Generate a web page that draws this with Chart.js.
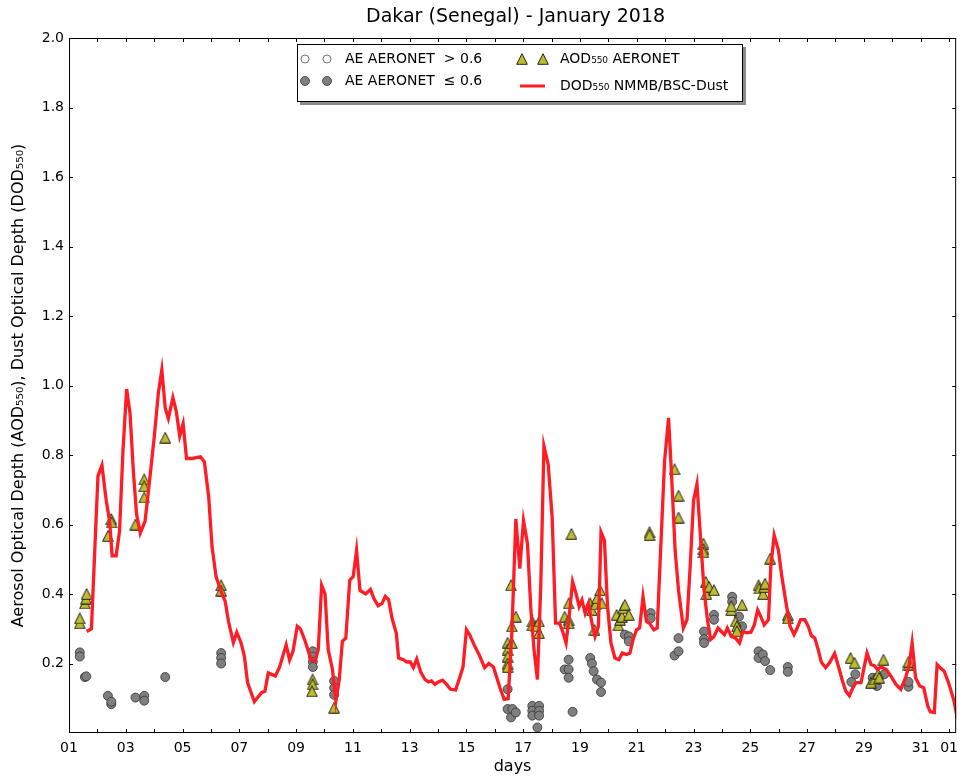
<!DOCTYPE html>
<html>
<head>
<meta charset="utf-8">
<script src="https://cdn.jsdelivr.net/npm/chart.js@4.4.1/dist/chart.umd.min.js"></script>
<style>
  html, body { margin: 0; padding: 0; background: #fff; overflow: hidden; }
  canvas { display: block; }
</style>
</head>
<body>
<canvas id="chart" width="965" height="778"></canvas>
<script>
// model dust optical depth (NMMB/BSC-Dust), day of month as decimal
const dodDays = [1.62, 1.79, 2.02, 2.16, 2.31, 2.43, 2.52, 2.66, 2.78, 2.90, 3.03, 3.15, 3.27, 3.38, 3.51, 3.68, 3.83, 4.00, 4.15, 4.27,
  4.39, 4.50, 4.66, 4.78, 4.90, 5.02, 5.14, 5.34, 5.63, 5.77, 5.92, 6.04, 6.18, 6.39, 6.50, 6.62, 6.79, 6.91, 7.06, 7.18,
  7.29, 7.53, 7.78, 7.90, 8.02, 8.27, 8.42, 8.65, 8.77, 8.89, 9.04, 9.15, 9.32, 9.53, 9.67, 9.78, 9.90, 10.02, 10.13, 10.28,
  10.40, 10.52, 10.63, 10.75, 10.89, 11.01, 11.13, 11.25, 11.45, 11.62, 11.74, 11.89, 12.03, 12.14, 12.26, 12.38, 12.53, 12.61, 12.78, 12.90,
  13.02, 13.13, 13.25, 13.39, 13.54, 13.66, 13.77, 13.89, 14.01, 14.16, 14.30, 14.44, 14.62, 14.76, 14.88, 15.00, 15.11, 15.29, 15.46, 15.64,
  15.79, 15.95, 16.07, 16.18, 16.33, 16.47, 16.60, 16.74, 16.88, 17.01, 17.15, 17.27, 17.38, 17.50, 17.62, 17.73, 17.88, 18.02, 18.14, 18.28,
  18.39, 18.51, 18.63, 18.74, 18.86, 18.97, 19.07, 19.18, 19.30, 19.42, 19.53, 19.65, 19.74, 19.86, 19.97, 20.09, 20.23, 20.37, 20.49, 20.64,
  20.76, 20.87, 20.99, 21.10, 21.22, 21.34, 21.45, 21.60, 21.72, 21.84, 21.98, 22.12, 22.23, 22.35, 22.47, 22.64, 22.77, 22.88, 23.00, 23.12,
  23.26, 23.37, 23.49, 23.60, 23.72, 23.86, 23.98, 24.09, 24.19, 24.33, 24.48, 24.62, 24.74, 24.88, 25.02, 25.14, 25.26, 25.37, 25.49, 25.64,
  25.72, 25.84, 25.99, 26.11, 26.26, 26.40, 26.54, 26.65, 26.77, 26.92, 27.04, 27.15, 27.27, 27.39, 27.50, 27.65, 27.79, 27.97, 28.11, 28.23,
  28.36, 28.49, 28.61, 28.72, 28.90, 29.11, 29.25, 29.37, 29.48, 29.60, 29.78, 29.95, 30.13, 30.30, 30.47, 30.60, 30.70, 30.82, 30.97, 31.11,
  31.25, 31.34, 31.48, 31.58, 31.69, 31.83, 31.98, 32.16, 32.30];
const dodValues = [0.292, 0.30, 0.74, 0.77, 0.67, 0.61, 0.51, 0.51, 0.58, 0.81, 0.99, 0.92, 0.75, 0.63, 0.575, 0.61, 0.72, 0.85, 0.98, 1.045,
  0.935, 0.905, 0.965, 0.925, 0.855, 0.89, 0.79, 0.79, 0.795, 0.78, 0.68, 0.535, 0.45, 0.40, 0.38, 0.32, 0.26, 0.29, 0.26, 0.22,
  0.145, 0.09, 0.116, 0.12, 0.173, 0.164, 0.19, 0.254, 0.21, 0.235, 0.307, 0.30, 0.264, 0.21, 0.207, 0.24, 0.425, 0.40, 0.24, 0.183,
  0.092, 0.154, 0.264, 0.273, 0.44, 0.45, 0.526, 0.41, 0.40, 0.413, 0.387, 0.366, 0.373, 0.393, 0.383, 0.33, 0.287, 0.216, 0.211, 0.204,
  0.205, 0.188, 0.213, 0.175, 0.154, 0.147, 0.15, 0.14, 0.147, 0.152, 0.14, 0.126, 0.124, 0.159, 0.19, 0.297, 0.283, 0.25, 0.223, 0.188,
  0.20, 0.19, 0.159, 0.13, 0.097, 0.099, 0.288, 0.616, 0.473, 0.611, 0.545, 0.354, 0.24, 0.154, 0.43, 0.826, 0.773, 0.62, 0.316, 0.316,
  0.292, 0.259, 0.345, 0.435, 0.402, 0.364, 0.383, 0.345, 0.373, 0.316, 0.278, 0.307, 0.578, 0.554, 0.364, 0.259, 0.216, 0.211, 0.23, 0.226,
  0.23, 0.269, 0.297, 0.302, 0.392, 0.321, 0.316, 0.297, 0.302, 0.526, 0.783, 0.907, 0.735, 0.526, 0.411, 0.302, 0.326, 0.478, 0.669, 0.716,
  0.545, 0.411, 0.326, 0.269, 0.278, 0.302, 0.292, 0.283, 0.302, 0.278, 0.273, 0.259, 0.292, 0.288, 0.29, 0.311, 0.354, 0.335, 0.311, 0.326,
  0.478, 0.569, 0.526, 0.45, 0.373, 0.307, 0.283, 0.302, 0.326, 0.326, 0.307, 0.28, 0.273, 0.24, 0.204, 0.188, 0.202, 0.229, 0.19, 0.154,
  0.121, 0.107, 0.13, 0.145, 0.145, 0.23, 0.197, 0.194, 0.183, 0.19, 0.183, 0.164, 0.14, 0.126, 0.159, 0.197, 0.259, 0.159, 0.135, 0.13,
  0.078, 0.061, 0.059, 0.197, 0.188, 0.178, 0.145, 0.097, 0.04];

// AERONET AOD 550 (triangles)
const aodDays = [1.38, 1.38, 1.56, 1.60, 1.62, 2.37, 2.49, 2.50, 3.34, 3.65, 3.65, 3.65, 4.39, 6.36, 6.36,
  9.58, 9.58, 9.56, 10.34, 16.45, 16.45, 16.45, 16.45, 16.45, 16.57, 16.60, 16.60, 16.74,
  17.32, 17.32, 17.45, 17.56, 17.56, 18.46, 18.60, 18.60, 18.60, 18.70,
  19.36, 19.42, 19.51, 19.55, 19.60, 19.71, 19.77, 20.29, 20.35, 20.41, 20.48, 20.52, 20.58, 20.72,
  21.45, 21.45, 22.33, 22.47, 22.47, 23.35, 23.35, 23.35, 23.43, 23.45, 23.55, 23.72,
  24.33, 24.33, 24.48, 24.53, 24.53, 24.71, 25.29, 25.32, 25.45, 25.49, 25.52, 25.70, 26.32, 26.32,
  28.53, 28.67, 29.25, 29.37, 29.50, 29.54, 29.69, 30.57, 30.57];
const aodValues = [0.316, 0.33, 0.373, 0.387, 0.40, 0.567, 0.616, 0.606, 0.60, 0.73, 0.71, 0.678, 0.85, 0.425, 0.41,
  0.154, 0.14, 0.12, 0.073, 0.26, 0.24, 0.22, 0.20, 0.19, 0.425, 0.259, 0.307, 0.335,
  0.321, 0.31, 0.307, 0.321, 0.288, 0.335, 0.373, 0.326, 0.316, 0.573,
  0.373, 0.354, 0.297, 0.37, 0.388, 0.411, 0.373, 0.34, 0.31, 0.326, 0.335, 0.359, 0.369, 0.34,
  0.578, 0.57, 0.759, 0.683, 0.62, 0.545, 0.53, 0.52, 0.435, 0.40, 0.421, 0.411,
  0.354, 0.365, 0.321, 0.307, 0.293, 0.369, 0.425, 0.416, 0.40, 0.42, 0.43, 0.502, 0.34, 0.33,
  0.216, 0.202, 0.145, 0.154, 0.17, 0.159, 0.211, 0.197, 0.205];

// AERONET Angstrom exponent <= 0.6 (grey circles)
const aeDays = [1.38, 1.38, 1.56, 1.61, 2.37, 2.49, 2.49, 3.34, 3.65, 3.65, 4.39, 6.36, 6.36, 6.36,
  9.59, 9.59, 9.59, 9.59, 10.34, 10.34, 10.34, 16.45, 16.45, 16.57, 16.62, 16.74,
  17.32, 17.32, 17.32, 17.50, 17.56, 17.56, 17.56, 18.46, 18.60, 18.60, 18.60, 18.74,
  19.36, 19.42, 19.48, 19.60, 19.74, 19.74, 20.58, 20.72, 20.72, 21.49, 21.49, 22.33, 22.47, 22.47,
  23.37, 23.37, 23.37, 23.72, 23.72, 24.36, 24.36, 24.60, 24.71, 25.29, 25.29, 25.44, 25.52, 25.70,
  26.32, 26.32, 28.56, 28.70, 29.31, 29.46, 29.72, 30.57, 30.57];
const aeValues = [0.232, 0.22, 0.161, 0.163, 0.107, 0.083, 0.09, 0.102, 0.107, 0.093, 0.161, 0.23, 0.216, 0.20,
  0.235, 0.22, 0.205, 0.19, 0.15, 0.13, 0.11, 0.126, 0.069, 0.045, 0.069, 0.059,
  0.078, 0.064, 0.05, 0.016, 0.078, 0.064, 0.05, 0.183, 0.211, 0.183, 0.159, 0.061,
  0.216, 0.20, 0.178, 0.154, 0.145, 0.118, 0.283, 0.278, 0.264, 0.345, 0.33, 0.223, 0.235, 0.273,
  0.292, 0.27, 0.259, 0.34, 0.326, 0.392, 0.378, 0.335, 0.307, 0.235, 0.216, 0.226, 0.207, 0.181,
  0.19, 0.176, 0.147, 0.169, 0.159, 0.135, 0.169, 0.133, 0.147];

// x tick labels every second day, last one is 1 February
const tickDays = [1, 3, 5, 7, 9, 11, 13, 15, 17, 19, 21, 23, 25, 27, 29, 31, 32];
const tickLabels = ["01", "03", "05", "07", "09", "11", "13", "15", "17", "19", "21", "23", "25", "27", "29", "31", "01"];

const FONT = "'DejaVu Sans', sans-serif";
const RED = "#ff1c24";
const OLIVE = "#bdbd2c";
const GREY = "#7f7f7f";

const toPoints = (xs, ys) => xs.map((d, i) => ({ x: d, y: ys[i] }));

// matplotlib "^" marker: as tall as it is wide
const tri = document.createElement("canvas");
tri.width = 12;
tri.height = 12;
(() => {
  const c = tri.getContext("2d");
  c.beginPath();
  c.moveTo(6, 0.7);
  c.lineTo(0.7, 11.3);
  c.lineTo(11.3, 11.3);
  c.closePath();
  c.fillStyle = OLIVE;
  c.fill();
  c.strokeStyle = "#222";
  c.lineWidth = 1;
  c.stroke();
})();

// title centred over the axes
const axesTitle = {
  id: "axesTitle",
  afterDraw(chart) {
    const { ctx, chartArea: a } = chart;
    ctx.save();
    ctx.fillStyle = "#000";
    ctx.font = "19px " + FONT;
    ctx.textAlign = "center";
    ctx.textBaseline = "middle";
    ctx.fillText("Dakar (Senegal) - January 2018", (a.left + a.right) / 2 + 3, 17);
    ctx.restore();
  }
};

// frame and inward ticks on all four sides
const frame = {
  id: "frame",
  afterDatasetsDraw(chart) {
    const { ctx, chartArea: a, scales: { x, y } } = chart;
    ctx.save();
    ctx.strokeStyle = "#000";
    ctx.lineWidth = 1;
    ctx.beginPath();
    for (let d = 1; d <= 32; d++) {
      const px = Math.round(x.getPixelForValue(d)) + 0.5;
      ctx.moveTo(px, a.bottom); ctx.lineTo(px, a.bottom - 4);
      ctx.moveTo(px, a.top); ctx.lineTo(px, a.top + 4);
    }
    for (let v = 0.2; v < 2; v += 0.2) {
      const py = Math.round(y.getPixelForValue(v)) + 0.5;
      ctx.moveTo(a.left, py); ctx.lineTo(a.left + 4, py);
      ctx.moveTo(a.right, py); ctx.lineTo(a.right - 4, py);
    }
    ctx.stroke();
    ctx.strokeRect(a.left + 0.5, a.top + 0.5, a.right - a.left - 1, a.bottom - a.top - 1);
    ctx.restore();
  }
};

function circle(ctx, cx, cy, r, fill) {
  ctx.beginPath();
  ctx.arc(cx, cy, r, 0, Math.PI * 2);
  ctx.fillStyle = fill;
  ctx.fill();
  ctx.stroke();
}

// matplotlib-like legend box with shadow
const legendBox = {
  id: "legendBox",
  afterDraw(chart) {
    const ctx = chart.ctx;
    ctx.save();
    ctx.fillStyle = "#8c8c8c";
    ctx.fillRect(300, 47, 446, 58);
    ctx.fillStyle = "#fff";
    ctx.fillRect(297, 44, 446, 58);
    ctx.strokeStyle = "#000";
    ctx.lineWidth = 1;
    ctx.strokeRect(297.5, 44.5, 445, 57);

    ctx.lineWidth = 0.8;
    ctx.strokeStyle = "#555";
    circle(ctx, 305, 59, 4, "#fff");
    circle(ctx, 327, 59, 4, "#fff");
    ctx.strokeStyle = "#333";
    circle(ctx, 305, 81, 4.5, GREY);
    circle(ctx, 327, 81, 4.5, GREY);
    ctx.drawImage(tri, 516, 53);
    ctx.drawImage(tri, 537, 53);
    ctx.strokeStyle = RED;
    ctx.lineWidth = 3;
    ctx.beginPath();
    ctx.moveTo(520, 86); ctx.lineTo(545, 86);
    ctx.stroke();

    ctx.fillStyle = "#000";
    ctx.font = "14px " + FONT;
    ctx.textBaseline = "middle";
    ctx.fillText("AE AERONET  > 0.6", 345, 59);
    ctx.fillText("AE AERONET  \u2264 0.6", 345, 81);
    ctx.fillText("AOD\u2085\u2085\u2080 AERONET", 560, 59);
    ctx.fillText("DOD\u2085\u2085\u2080 NMMB/BSC-Dust", 560, 86);
    ctx.restore();
  }
};

new Chart(document.getElementById("chart"), {
  type: "scatter",
  data: {
    datasets: [
      {
        label: "DOD550 NMMB/BSC-Dust",
        type: "line",
        data: toPoints(dodDays, dodValues),
        borderColor: RED,
        borderWidth: 3.3,
        pointRadius: 0,
        tension: 0,
        fill: false,
        order: 0
      },
      {
        label: "AOD550 AERONET",
        data: toPoints(aodDays, aodValues),
        pointStyle: tri,
        order: 1
      },
      {
        label: "AE AERONET <= 0.6",
        data: toPoints(aeDays, aeValues),
        pointStyle: "circle",
        pointRadius: 4.5,
        backgroundColor: GREY,
        borderColor: "#333",
        borderWidth: 0.8,
        order: 2
      }
    ]
  },
  options: {
    responsive: false,
    animation: false,
    devicePixelRatio: 1,
    layout: { padding: { left: 0, right: 1, top: 38, bottom: 0 } },
    plugins: {
      legend: { display: false },
      tooltip: { enabled: false },
      title: { display: false }
    },
    scales: {
      x: {
        type: "linear",
        min: 1,
        max: 32.25,
        afterFit(scale) { scale.height = 45; },
        afterBuildTicks(scale) { scale.ticks = tickDays.map(v => ({ value: v })); },
        ticks: {
          autoSkip: false,
          maxRotation: 0,
          padding: 7,
          color: "#000",
          font: { family: FONT, size: 14 },
          callback: (v) => tickLabels[tickDays.indexOf(v)] ?? ""
        },
        grid: { display: false, drawTicks: false },
        border: { display: false },
        title: {
          display: true,
          text: "days",
          color: "#000",
          font: { family: FONT, size: 16 },
          padding: { top: 0, bottom: 1.4 }
        }
      },
      y: {
        min: 0,
        max: 2,
        afterFit(scale) { scale.width = 69; },
        ticks: {
          stepSize: 0.2,
          padding: 5,
          color: "#000",
          font: { family: FONT, size: 14 },
          callback: (v) => (v === 0 ? "" : Number(v).toFixed(1))
        },
        grid: { display: false, drawTicks: false },
        border: { display: false },
        title: {
          display: true,
          text: "Aerosol Optical Depth (AOD\u2085\u2085\u2080), Dust Optical Depth (DOD\u2085\u2085\u2080)",
          color: "#000",
          font: { family: FONT, size: 16 },
          padding: { top: 9.4, bottom: 0 }
        }
      }
    }
  },
  plugins: [frame, legendBox, axesTitle]
});
</script>
</body>
</html>
